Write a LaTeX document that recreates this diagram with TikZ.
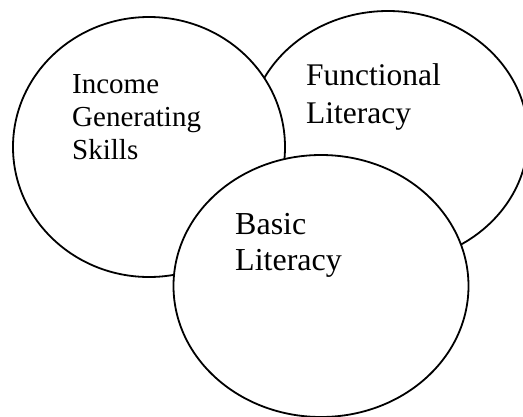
\documentclass[tikz,border=0pt]{standalone}
\usepackage{fontspec}
\setmainfont{Liberation Serif}
\usepackage{tikz}
\usetikzlibrary{positioning}
\tikzstyle{ring}=[draw=black, fill=white, line width=1.8pt]
\tikzstyle{ring text}=[anchor=north west, inner sep=0pt, align=left]
\newcommand{\ringlabel}[4][]{
  \node [ring text, #1] (#2) at #3 {#4}
}

\begin{document}
\begin{tikzpicture}[x=1pt,y=-1pt]
\useasboundingbox (0,0) rectangle (523,416);
\clip (0,0) rectangle (523,416);
% the three circles, back to front
\draw[ring] (388,137) ellipse [x radius=140pt, y radius=126pt];
\draw[ring] (149,147) ellipse [x radius=136pt, y radius=130pt];
\draw[ring] (321,286) ellipse [x radius=147.5pt, y radius=131pt];

\ringlabel[font=\fontsize{29}{33}\selectfont]{income}{(72,74)}{Income\\Generating\\Skills};
\ringlabel[font=\fontsize{31.5}{38}\selectfont]{functional}{(306,63)}{Functional\\Literacy};
\ringlabel[font=\fontsize{32}{36}\selectfont]{basic}{(235,213)}{Basic\\Literacy};
\end{tikzpicture}
\end{document}
